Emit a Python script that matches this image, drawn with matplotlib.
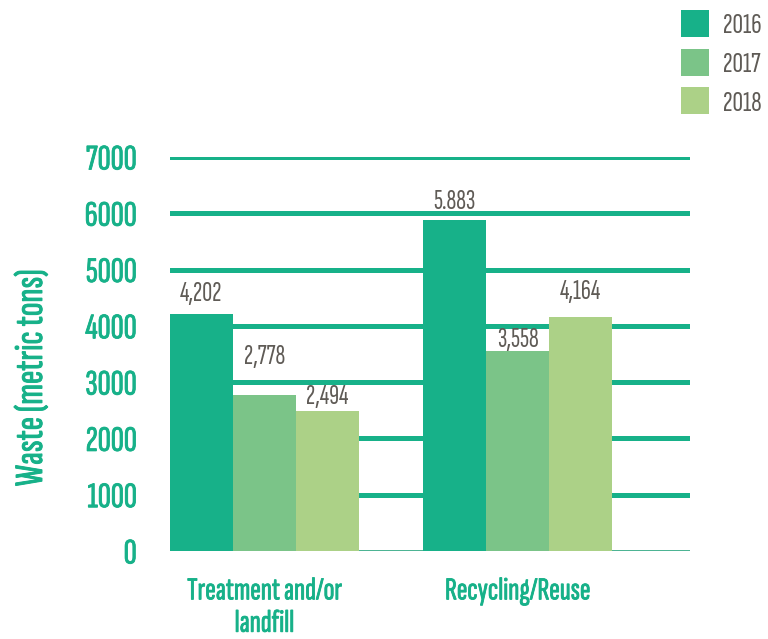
import numpy as np
import matplotlib.pyplot as plt
import matplotlib.patheffects as pe

# Data
categories = ["Treatment and/or\nlandfill", "Recycling/Reuse"]
years = ["2016", "2017", "2018"]
values_2016 = [4202, 5883]
values_2017 = [2778, 3558]
values_2018 = [2494, 4164]
labels_2016 = ["4,202", "5.883"]
labels_2017 = ["2,778", "3,558"]
labels_2018 = ["2,494", "4,164"]
y_ticks = [0, 1000, 2000, 3000, 4000, 5000, 6000, 7000]

# label gaps above bars (points), per series
label_gaps = [[10, 8], [22, 3], [5, 13]]

green = "#17b189"
colors = ["#17b189", "#7bc488", "#acd187"]
gray = "#5f5b56"
font = ["Sofia Sans Extra Condensed", "DejaVu Sans"]
plt.rcParams["font.family"] = font
bold = [pe.withStroke(linewidth=0.6, foreground=green)]

fig = plt.figure(figsize=(7.68, 6.39), dpi=100)
ax = fig.add_axes([170 / 768, 88 / 639, 520 / 768, 394 / 639])

x = np.arange(len(categories))
w = 0.248
series = [values_2016, values_2017, values_2018]
texts = [labels_2016, labels_2017, labels_2018]
for i, (vals, labs) in enumerate(zip(series, texts)):
    pos = x + (i - 1) * w
    ax.bar(pos, vals, width=w, color=colors[i], zorder=3, label=years[i])
    for px, v, t, g in zip(pos, vals, labs, label_gaps[i]):
        ax.annotate(t, (px, v), xytext=(0, g), textcoords="offset points",
                    ha="center", va="baseline", fontsize=20, color=gray, zorder=5)

# grid lines
for t in y_ticks[1:]:
    ax.axhline(t, color=green, lw=3.6, zorder=1)
ax.axhline(0, color="#2aa57f", lw=1.2, zorder=2)

ax.set_xlim(-0.372, 1.68)
ax.set_ylim(0, 7000)
ax.set_yticks(y_ticks)
ax.set_yticklabels([str(t) for t in y_ticks], fontsize=26, color=green)
ax.set_xticks(x)
ax.set_xticklabels(categories, fontsize=23, color=green, linespacing=1.2, va="top")
for lab in ax.get_yticklabels() + ax.get_xticklabels():
    lab.set_path_effects(bold)
ax.tick_params(axis="y", length=0, pad=24)
ax.tick_params(axis="x", length=0, pad=19)
for s in ax.spines.values():
    s.set_visible(False)
ax.set_ylabel("Waste (metric tons)", fontsize=29, color=green, va="center",
              path_effects=[pe.withStroke(linewidth=0.7, foreground=green)])
ax.yaxis.set_label_coords((32 - 170) / 520, (551 - 378) / 394)

leg = fig.legend(loc="upper right", bbox_to_anchor=(1 - 6 / 768, 1 - 10 / 639), frameon=False,
                 fontsize=21, labelcolor=gray, handlelength=0.95, handleheight=1.05,
                 handletextpad=0.5, labelspacing=0.35, borderaxespad=0, borderpad=0)

fig.savefig("out.png", dpi=100)
